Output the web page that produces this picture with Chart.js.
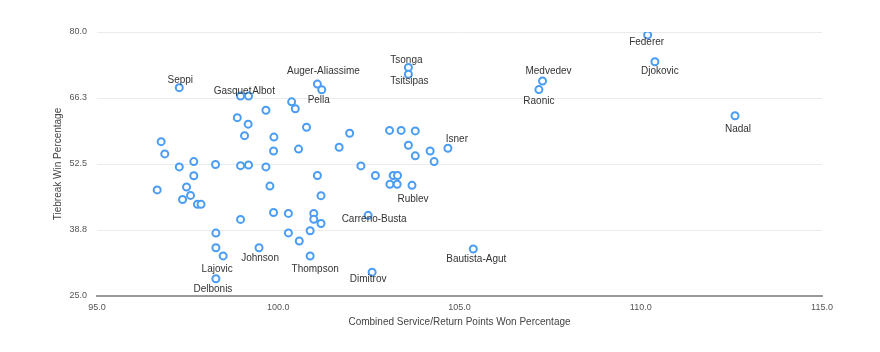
<!DOCTYPE html>
<html>
<head>
<meta charset="utf-8">
<script src="https://cdn.jsdelivr.net/npm/chart.js@4.4.1/dist/chart.umd.min.js"></script>
<style>
  body { margin: 0; background: #fff; }
</style>
</head>
<body>
<canvas id="chart" width="880" height="352"></canvas>
<script>
// players with a name label, the rest left blank
const players = [
  'Seppi', 'Gasquet', 'Albot', '', '', '', '', '', '', '',
  '', '', '', '', '', '', '', '', '', '',
  '', '', '', '', '', '', '', '', '', '',
  '', '', '', '', '', 'Lajovic', 'Johnson', 'Delbonis', 'Auger-Aliassime', 'Pella',
  '', '', '', '', '', '', '', '', '', '',
  '', '', '', '', '', 'Tsonga', 'Tsitsipas', '', '', 'Rublev',
  '', '', '', '', 'Carreno-Busta', '', 'Thompson', 'Dimitrov', 'Medvedev', 'Raonic',
  'Isner', 'Bautista-Agut', 'Federer', 'Djokovic', 'Nadal'
];

const combinedPct = [
  97.27, 98.96, 99.18, 99.66, 98.87, 99.17, 99.07, 99.88, 96.77, 96.87,
  99.87, 97.27, 97.67, 98.27, 98.96, 99.18, 99.66, 97.67, 100.37, 100.47,
  100.56, 96.66, 97.47, 99.77, 97.58, 97.36, 97.77, 97.87, 99.87, 100.28,
  98.96, 98.28, 100.28, 100.58, 98.28, 98.48, 99.47, 98.28, 101.08, 101.2,
  100.78, 101.97, 103.07, 103.39, 103.78, 103.59, 103.78, 104.19, 104.3, 101.68,
  102.28, 102.68, 103.17, 103.29, 101.08, 103.59, 103.59, 103.08, 103.28, 103.69,
  101.18, 100.98, 100.98, 101.18, 102.48, 100.88, 100.88, 102.59, 107.29, 107.19,
  104.68, 105.38, 110.19, 110.39, 112.6
];

const tiebreakPct = [
  68.4, 66.67, 66.67, 63.7, 62.15, 60.8, 58.4, 58.1, 57.15, 54.6,
  55.2, 51.9, 53.0, 52.4, 52.15, 52.3, 51.9, 50.05, 65.45, 64.0,
  55.6, 47.1, 47.7, 47.9, 45.95, 45.1, 44.1, 44.1, 42.4, 42.2,
  40.95, 38.1, 38.15, 36.45, 35.05, 33.35, 35.05, 28.6, 69.15, 67.98,
  60.15, 58.9, 59.5, 59.5, 59.4, 56.4, 54.2, 55.2, 53.0, 55.98,
  52.1, 50.1, 50.1, 50.1, 50.1, 72.6, 71.2, 48.27, 48.27, 48.06,
  45.9, 42.2, 41.0, 40.1, 41.8, 38.6, 33.33, 29.96, 69.8, 68.0,
  55.77, 34.8, 79.4, 73.8, 62.56
];

const xTicks = [95, 100, 105, 110, 115];
const yTicks = [25, 38.75, 52.5, 66.25, 80];

// where each name sits relative to its point (px)
const labelOffset = {
  'Seppi': [1, -7], 'Gasquet': [-8, -5], 'Albot': [15, -5],
  'Auger-Aliassime': [6, -13], 'Pella': [-3, 11],
  'Tsonga': [-2, -7], 'Tsitsipas': [1, 7],
  'Medvedev': [6, -10], 'Raonic': [0, 12],
  'Federer': [-1, 7], 'Djokovic': [5, 9], 'Nadal': [3, 14],
  'Isner': [9, -9], 'Rublev': [1, 14], 'Carreno-Busta': [6, 4],
  'Bautista-Agut': [3, 10], 'Dimitrov': [-4, 7], 'Thompson': [5, 13],
  'Johnson': [1, 10], 'Lajovic': [-6, 13], 'Delbonis': [-3, 11]
};

const fontFamily = '"Liberation Sans", Arial, Helvetica, sans-serif';

const pointLabels = {
  id: 'pointLabels',
  afterDatasetsDraw(chart) {
    const ctx = chart.ctx;
    const meta = chart.getDatasetMeta(0);
    ctx.save();
    ctx.font = '10px ' + fontFamily;
    ctx.fillStyle = '#333';
    ctx.textAlign = 'center';
    ctx.textBaseline = 'middle';
    meta.data.forEach((pt, i) => {
      const name = players[i];
      if (!name) return;
      const off = labelOffset[name] || [0, 11];
      ctx.fillText(name, pt.x + off[0], pt.y + off[1]);
    });
    ctx.restore();
  }
};

const points = combinedPct.map((x, i) => ({ x: x, y: tiebreakPct[i] }));

new Chart(document.getElementById('chart'), {
  type: 'scatter',
  data: {
    datasets: [{
      data: points,
      pointRadius: 3.5,
      pointHoverRadius: 3.5,
      borderWidth: 2,
      borderColor: '#4a9df2',
      backgroundColor: '#fff'
    }]
  },
  plugins: [pointLabels],
  options: {
    responsive: false,
    animation: false,
    layout: { padding: { left: 48, right: 58, top: 32, bottom: 20 } },
    plugins: {
      legend: { display: false },
      tooltip: { enabled: false }
    },
    scales: {
      x: {
        type: 'linear',
        min: 95,
        max: 115,
        afterBuildTicks: (scale) => { scale.ticks = xTicks.map(v => ({ value: v })); },
        afterFit: (scale) => { scale.height = 36; },
        grid: { display: false, drawTicks: false },
        border: { display: true, color: '#9a9a9a', width: 2 },
        ticks: {
          padding: 6,
          color: '#555',
          font: { size: 9, family: fontFamily },
          callback: (v) => Number(v).toFixed(1)
        },
        title: {
          display: true,
          text: 'Combined Service/Return Points Won Percentage',
          color: '#444',
          font: { size: 10, family: fontFamily },
          padding: { top: 4, bottom: 4 }
        }
      },
      y: {
        type: 'linear',
        min: 25,
        max: 80,
        afterBuildTicks: (scale) => { scale.ticks = yTicks.map(v => ({ value: v })); },
        afterFit: (scale) => { scale.width = 49; },
        grid: { color: '#ebebeb', drawTicks: false },
        border: { display: false },
        ticks: {
          padding: 10,
          color: '#555',
          font: { size: 9, family: fontFamily },
          callback: (v) => Number(v).toFixed(1)
        },
        title: {
          display: true,
          text: 'Tiebreak Win Percentage',
          color: '#444',
          font: { size: 10, family: fontFamily },
          padding: { top: 4, bottom: 4 }
        }
      }
    }
  }
});
</script>
</body>
</html>
